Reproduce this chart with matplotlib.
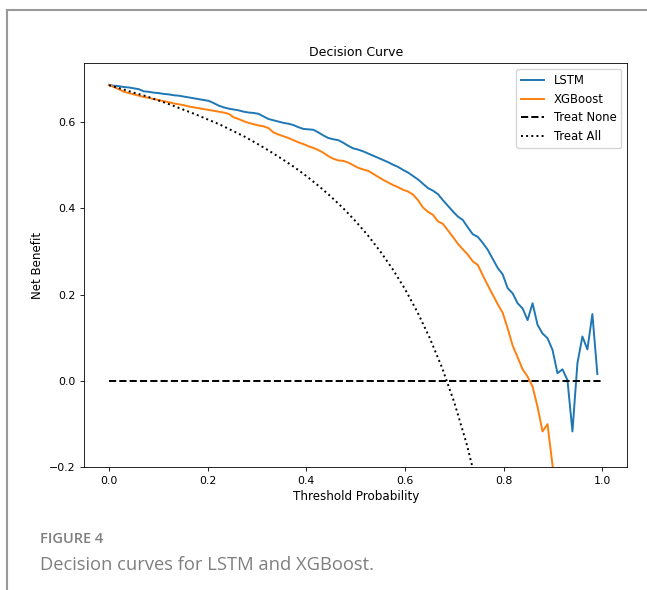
import numpy as np
import matplotlib.pyplot as plt
from matplotlib.lines import Line2D

# Thresholds used for the model curves (100 points from 0 to 1)
thresholds = np.linspace(0, 1, 100)

# Net benefit (last threshold has no value)
nb_lstm = [0.686, 0.684, 0.683, 0.681, 0.680, 0.678, 0.676, 0.671, 0.670, 0.668,
           0.667, 0.665, 0.664, 0.662, 0.661, 0.659, 0.657, 0.655, 0.653, 0.651,
           0.649, 0.644, 0.638, 0.634, 0.631, 0.629, 0.627, 0.624, 0.622, 0.621,
           0.619, 0.613, 0.607, 0.604, 0.601, 0.598, 0.596, 0.593, 0.588, 0.584,
           0.583, 0.582, 0.576, 0.569, 0.563, 0.560, 0.558, 0.552, 0.545, 0.539,
           0.536, 0.532, 0.527, 0.522, 0.517, 0.512, 0.507, 0.501, 0.496, 0.489,
           0.483, 0.475, 0.467, 0.457, 0.447, 0.441, 0.433, 0.419, 0.406, 0.393,
           0.381, 0.373, 0.356, 0.340, 0.334, 0.320, 0.304, 0.283, 0.262, 0.247,
           0.215, 0.203, 0.180, 0.168, 0.141, 0.180, 0.130, 0.110, 0.099, 0.072,
           0.018, 0.027, 0.002, -0.117, 0.041, 0.103, 0.073, 0.155, 0.016, np.nan]

nb_xgb = [0.686, 0.681, 0.676, 0.670, 0.667, 0.664, 0.661, 0.658, 0.656, 0.653,
          0.651, 0.648, 0.646, 0.643, 0.641, 0.639, 0.636, 0.634, 0.632, 0.630,
          0.628, 0.626, 0.624, 0.622, 0.619, 0.611, 0.607, 0.602, 0.598, 0.595,
          0.592, 0.590, 0.586, 0.576, 0.571, 0.567, 0.563, 0.558, 0.553, 0.549,
          0.544, 0.540, 0.535, 0.529, 0.521, 0.515, 0.511, 0.510, 0.506, 0.500,
          0.494, 0.490, 0.487, 0.480, 0.473, 0.466, 0.460, 0.454, 0.449, 0.443,
          0.439, 0.432, 0.419, 0.402, 0.392, 0.385, 0.370, 0.364, 0.349, 0.334,
          0.318, 0.305, 0.293, 0.277, 0.269, 0.245, 0.222, 0.200, 0.178, 0.158,
          0.122, 0.082, 0.055, 0.027, 0.010, -0.013, -0.060, -0.117, -0.100, -0.195,
          -0.300]

nb_none = [0.0] * 100

# Treat All curve
all_thresholds = [0.0, 0.025, 0.05, 0.075, 0.1, 0.125, 0.15, 0.175, 0.2, 0.225,
                  0.25, 0.275, 0.3, 0.325, 0.35, 0.375, 0.4, 0.425, 0.45, 0.475,
                  0.5, 0.525, 0.55, 0.575, 0.6, 0.625, 0.65, 0.675, 0.7, 0.725, 0.75]
nb_all = [0.685, 0.677, 0.668, 0.660, 0.650, 0.640, 0.629, 0.618, 0.606, 0.594,
          0.580, 0.566, 0.550, 0.533, 0.515, 0.496, 0.475, 0.452, 0.427, 0.400,
          0.370, 0.337, 0.300, 0.259, 0.213, 0.160, 0.100, 0.031, -0.050, -0.146, -0.260]

# Create figure
fig = plt.figure(figsize=(6.47, 5.90), dpi=100)
ax = fig.add_axes([0.1303, 0.2080, 0.9691 - 0.1303, 0.8927 - 0.2080])

# Plot data
ax.plot(thresholds[:len(nb_lstm)], nb_lstm, c='#1f77b4', lw=1.4, label='LSTM')
ax.plot(thresholds[:len(nb_xgb)], nb_xgb, c='#ff7f0e', lw=1.4, label='XGBoost')
ax.plot(thresholds, nb_none, 'k--', lw=1.4, label='Treat None')
ax.plot(all_thresholds, nb_all, 'k:', lw=1.4, label='Treat All')

# Set axises
ax.set_xlim(-0.05, 1.05)
ax.set_ylim(-0.2, 0.736)
ax.set_xticks([0.0, 0.2, 0.4, 0.6, 0.8, 1.0])
ax.set_yticks([-0.2, 0.0, 0.2, 0.4, 0.6])
ax.tick_params(labelsize=7.9, length=2.6, width=0.6)
for s in ax.spines.values():
    s.set_linewidth(0.6)

# Labels and title
ax.set_xlabel('Threshold Probability', fontsize=8.6, labelpad=3)
ax.set_ylabel('Net Benefit', fontsize=8.6, labelpad=4)
ax.set_title('Decision Curve', fontsize=9, pad=5)

# Add legend
ax.legend(loc='upper right', fontsize=8.4, borderaxespad=0.5)

# Page frame and caption
fig.add_artist(Line2D([7.3 / 647, 7.3 / 647], [0, 1 - 10 / 590], color='#999999', lw=1.5))
fig.add_artist(Line2D([7.3 / 647, 1], [1 - 10 / 590, 1 - 10 / 590], color='#999999', lw=1.5))
fig.text(40.5 / 647, 1 - 543 / 590, 'FIGURE 4', fontsize=10.5, color='#7f7f7f',
         family='Open Sans', weight='semibold', va='baseline')
fig.text(40.5 / 647, 1 - 570 / 590, 'Decision curves for LSTM and XGBoost.', fontsize=13.2,
         color='#7f7f7f', family='Open Sans', va='baseline')

# Save as fig
fig.savefig('out.png', dpi=100)
